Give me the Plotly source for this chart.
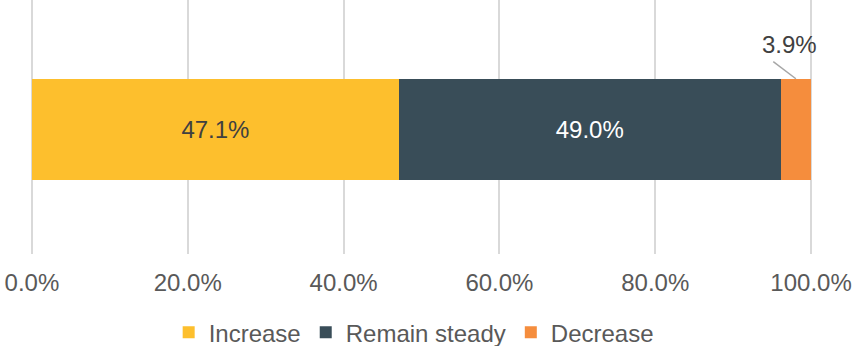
import plotly.graph_objects as go

categories = [""]
series_names = ["Increase", "Remain steady", "Decrease"]
increase = [47.1]
remain = [49.0]
decrease = [3.9]
colors = ["#FDBF2D", "#394D58", "#F58D3D"]
label_colors = ["#404040", "#FFFFFF", "#404040"]
tick_vals = [0, 20, 40, 60, 80, 100]
tick_text = ["0.0%", "20.0%", "40.0%", "60.0%", "80.0%", "100.0%"]

FONT = "Liberation Sans, Arial, sans-serif"
FS = 24
fig = go.Figure()
values = [increase, remain, decrease]
for i, (name, vals) in enumerate(zip(series_names, values)):
    show_text = i < 2
    fig.add_trace(go.Bar(
        name=name, y=[0], x=vals, orientation="h",
        marker=dict(color=colors[i], line=dict(width=0)),
        width=0.4,
        text=[f"{v:.1f}%" for v in vals] if show_text else None,
        textposition="inside" if show_text else "none",
        insidetextanchor="middle",
        textfont=dict(color=label_colors[i], size=FS, family=FONT),
        hoverinfo="skip",
    ))

# label for small segment with leader line
dec_center = increase[0] + remain[0] + decrease[0] / 2
fig.add_shape(type="line", x0=dec_center - 2.9, y0=0.267, x1=dec_center, y1=0.2,
              line=dict(color="#A6A6A6", width=1.5))
fig.add_annotation(x=dec_center - 0.8, y=0.334, text=f"{decrease[0]:.1f}%", showarrow=False,
                   font=dict(color="#404040", size=FS, family=FONT))

fig.update_layout(
    barmode="stack",
    width=852, height=346,
    margin=dict(l=30, r=39, t=0, b=92, autoexpand=False),
    plot_bgcolor="white", paper_bgcolor="white",
    font=dict(family=FONT, color="#595959", size=FS),
    xaxis=dict(range=[-0.25, 100.25], tickvals=tick_vals, ticktext=tick_text,
               showgrid=True, gridcolor="#D9D9D9", gridwidth=2,
               zeroline=True, zerolinecolor="#D9D9D9", zerolinewidth=2,
               showline=False, ticks="", automargin=False,
               ticklabelstandoff=12,
               tickfont=dict(size=FS, color="#595959")),
    yaxis=dict(range=[-0.49, 0.51], showticklabels=False, showgrid=False,
               zeroline=False, automargin=False),
    legend=dict(orientation="h", x=0.49, xanchor="center", y=-0.31, yanchor="middle",
                font=dict(size=FS, color="#595959"), itemwidth=30,
                traceorder="normal"),
    showlegend=True,
)

fig.write_html("out.html", config={"displayModeBar": False},
               post_script="document.body.style.margin='0';")
